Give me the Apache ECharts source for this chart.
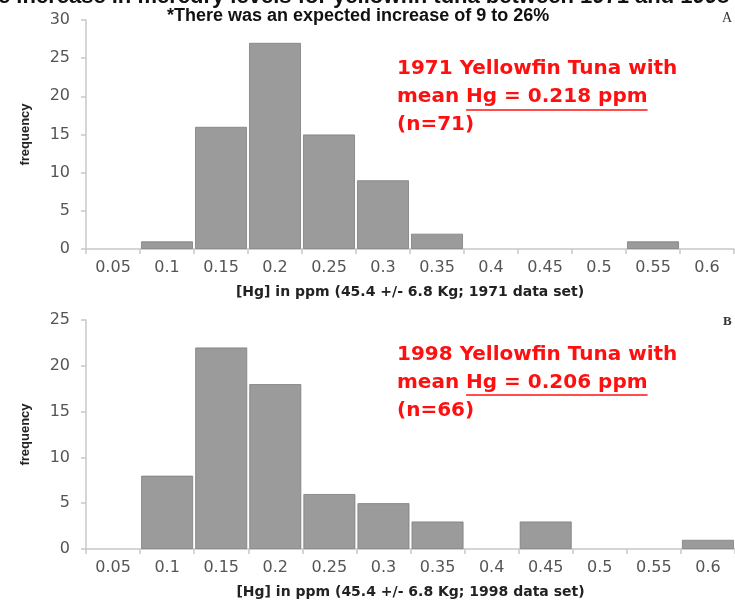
<!DOCTYPE html>
<html><head><meta charset="utf-8">
<script src="https://cdn.jsdelivr.net/npm/echarts@6/dist/echarts.min.js"></script>
<style>html,body{margin:0;padding:0;background:#fff}#c{width:735px;height:603px}</style>
</head><body><div id="c"></div>
<script>
const categories = ['0.05','0.1','0.15','0.2','0.25','0.3','0.35','0.4','0.45','0.5','0.55','0.6'];
const freq1971 = [0,1,16,27,15,9,2,0,0,0,1,0];
const freq1998 = [0,8,22,18,6,5,3,0,3,0,0,1];
const yTicks1971 = {min:0,max:30,interval:5};
const yTicks1998 = {min:0,max:25,interval:5};
const titleCut = 'e increase in mercury levels for yellowfin tuna between 1971 and 1998';
const subtitle = '*There was an expected increase of 9 to 26%';
const xName1971 = '[Hg] in ppm (45.4 +/- 6.8 Kg; 1971 data set)';
const xName1998 = '[Hg] in ppm (45.4 +/- 6.8 Kg; 1998 data set)';

const chart = echarts.init(document.getElementById('c'));
const axisCol = '#c8c8c8';
function xAx(idx, name){
  return {type:'category', gridIndex:idx, data:categories,
    axisLine:{lineStyle:{color:axisCol,width:1.5}},
    axisTick:{show:true,length:5,lineStyle:{color:axisCol,width:1.5}},
    axisLabel:{color:'#555',fontFamily:'DejaVu Sans',fontSize:16,margin:11},
    name:name,nameLocation:'middle',nameGap:36,
    nameTextStyle:{fontFamily:'DejaVu Sans',fontWeight:'bold',fontSize:14,color:'#222'}};
}
function yAx(idx, t){
  return {type:'value', gridIndex:idx, min:t.min,max:t.max,interval:t.interval,
    axisLine:{show:true,lineStyle:{color:axisCol,width:1.5}},
    axisTick:{show:true,length:5,lineStyle:{color:axisCol,width:1.5}},
    splitLine:{show:false},
    axisLabel:{color:'#555',fontFamily:'DejaVu Sans',fontSize:16,margin:16},
    name:'frequency',nameLocation:'middle',nameGap:54,
    nameTextStyle:{fontFamily:'Liberation Sans Narrow, Liberation Sans',fontWeight:'bold',fontSize:13,color:'#222'}};
}
const barStyle = {color:'#9b9b9b',borderColor:'#7d7d7d',borderWidth:0.8};
const red = '#ff1010';
const FS = 20;
const redFont = {fontFamily:'DejaVu Sans',fontWeight:'bold',fontSize:FS,fill:red};
function note(y0, l1, pre, und, l3){
  return [
    {type:'text',left:397,top:y0,style:Object.assign({text:l1},redFont)},
    {type:'text',left:397,top:y0+28,style:Object.assign({text:pre+und},redFont)},
    {type:'text',left:397,top:y0+56,style:Object.assign({text:l3},redFont)}
  ];
}
const nz = arr => arr.map(v => v === 0 ? '-' : v);
chart.setOption({
  animation:false,
  grid:[{left:86,top:20,right:1,height:229},{left:86,top:320,right:-3,height:229}],
  xAxis:[xAx(0,xName1971),xAx(1,xName1998)],
  yAxis:[yAx(0,yTicks1971),yAx(1,yTicks1998)],
  series:[
    {type:'bar',xAxisIndex:0,yAxisIndex:0,data:nz(freq1971),barCategoryGap:'4%',itemStyle:barStyle},
    {type:'bar',xAxisIndex:1,yAxisIndex:1,data:nz(freq1998),barCategoryGap:'4%',itemStyle:barStyle}
  ],
  graphic:[
    {type:'text',left:-2,top:-14,style:{text:titleCut,fontFamily:'Liberation Sans',fontWeight:'bold',fontSize:22,fill:'#111'}},
    {type:'text',left:167,top:7,style:{text:subtitle,fontFamily:'Liberation Sans',fontWeight:'bold',fontSize:18,fill:'#111'}},
    {type:'text',left:722,top:11,style:{text:'A',fontFamily:'Liberation Serif',fontSize:14,fill:'#333'}},
    {type:'text',left:723,top:315,style:{text:'B',fontFamily:'Liberation Serif',fontWeight:'bold',fontSize:13,fill:'#333'}},
    ...note(59,'1971 Yellowfin Tuna with','mean ','Hg = 0.218 ppm','(n=71)'),
    ...note(345,'1998 Yellowfin Tuna with','mean ','Hg = 0.206 ppm','(n=66)')
  ]
});
const z = chart.getZr();
function underline(y, pre, und){
  const ctx = document.createElement('canvas').getContext('2d');
  ctx.font = 'bold ' + FS + 'px DejaVu Sans';
  const x0 = 397 + ctx.measureText(pre).width;
  const x1 = 397 + ctx.measureText(pre+und).width;
  z.add(new echarts.graphic.Line({shape:{x1:x0,y1:y,x2:x1,y2:y},style:{stroke:red,lineWidth:1.5}}));
}
underline(110,'mean ','Hg = 0.218 ppm');
underline(395,'mean ','Hg = 0.206 ppm');
</script></body></html>
